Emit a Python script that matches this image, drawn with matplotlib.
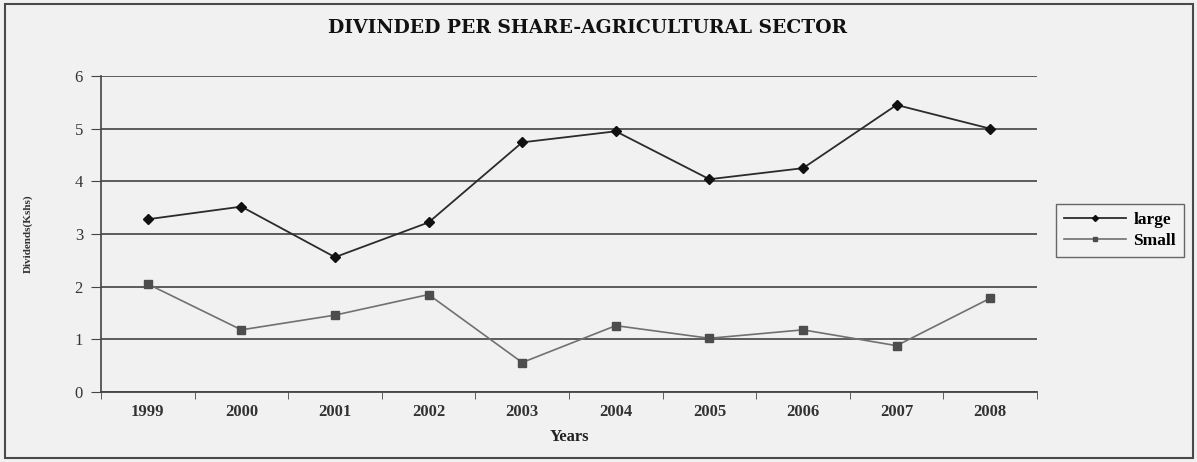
import numpy as np
import matplotlib.pyplot as plt
from matplotlib.patches import Rectangle

# dividend per share, agricultural sector
years = ['1999', '2000', '2001', '2002', '2003', '2004', '2005', '2006', '2007', '2008']
large = [3.28, 3.52, 2.56, 3.22, 4.74, 4.95, 4.04, 4.25, 5.45, 5.00]
small = [2.05, 1.18, 1.46, 1.85, 0.56, 1.26, 1.02, 1.18, 0.88, 1.78]

plt.rcParams['font.family'] = ['Liberation Serif', 'DejaVu Serif']

W, H = 1197, 462
fig = plt.figure(figsize=(W / 100, H / 100), dpi=100, facecolor='#f1f1f1')
ax = fig.add_axes([101 / W, 1 - 392 / H, 936 / W, 316 / H])
ax.set_facecolor('#f1f1f1')

x = np.arange(len(years))
ax.plot(x, large, color='#2b2b2b', linewidth=1.3, marker='D', markersize=5.5,
        markerfacecolor='#111111', markeredgecolor='#111111', label='large', zorder=3)
ax.plot(x, small, color='#707070', linewidth=1.2, marker='s', markersize=6,
        markerfacecolor='#4d4d4d', markeredgecolor='#4d4d4d', label='Small', zorder=3)

ax.set_xlim(-0.5, len(years) - 0.5)
ax.set_ylim(0, 6)
ax.set_yticks(range(0, 7))
ax.yaxis.grid(True, color='#505050', linewidth=1.3)
ax.set_axisbelow(True)

ax.set_xticks(x)
ax.set_xticklabels(years, fontsize=12, fontweight='bold', color='#333333')
ax.set_xticks(np.arange(-0.5, len(years)), minor=True)
ax.tick_params(axis='x', which='major', length=0, pad=9)
ax.tick_params(axis='x', which='minor', length=5, color='#444444', direction='out')
ax.tick_params(axis='y', length=7, color='#444444', labelsize=12, pad=6, labelcolor='#333333')

for side in ['top', 'right']:
    ax.spines[side].set_visible(False)
ax.spines['left'].set_color('#444444')
ax.spines['bottom'].set_color('#444444')
ax.spines['left'].set_linewidth(1.2)
ax.spines['bottom'].set_linewidth(1.3)

ax.set_xlabel('Years', fontsize=12, fontweight='bold', color='#222222', labelpad=6)
ax.set_ylabel('Dividends(Kshs)', fontsize=8, fontweight='bold', color='#333333', labelpad=30)

fig.text(588 / W, 1 - 28 / H, 'DIVINDED PER SHARE-AGRICULTURAL SECTOR', ha='center', va='center',
         fontsize=13.5, fontweight='bold', color='#111111', family='DejaVu Serif')

leg = fig.legend(loc='upper left', bbox_to_anchor=(1056 / W, 1 - 204 / H), borderaxespad=0,
                 frameon=True, fancybox=False, handlelength=3.6, handletextpad=0.4,
                 borderpad=0.45, labelspacing=0.3, markerscale=0.55,
                 prop={'weight': 'bold', 'size': 12.5})
leg.get_frame().set_edgecolor('#444444')
leg.get_frame().set_facecolor('#f4f4f4')
leg.get_frame().set_linewidth(1.0)

# outer frame around the whole chart
fig.patches.append(Rectangle((5 / W, 4 / H), 1188 / W, 454 / H, transform=fig.transFigure,
                             fill=False, edgecolor='#4a4a4a', linewidth=1.5))

fig.savefig('out.png', dpi=100, facecolor=fig.get_facecolor())
